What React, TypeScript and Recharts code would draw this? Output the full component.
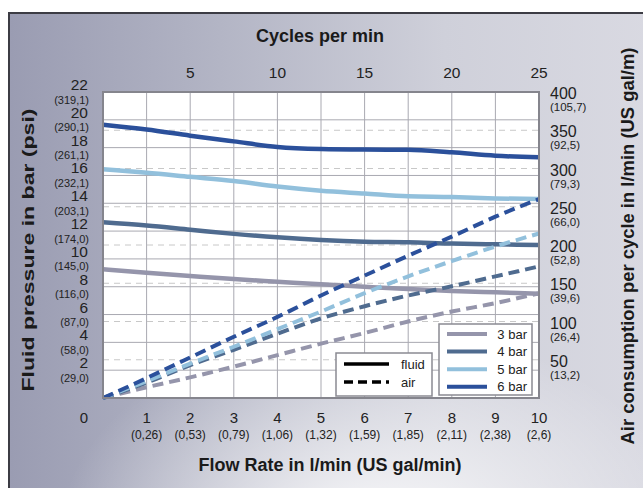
import React from 'react';
import { ComposedChart, Line, XAxis, YAxis, CartesianGrid } from 'recharts';

// flow rate in l/min, with US gal/min shown under each tick
const flowRate = [0, 1, 2, 3, 4, 5, 6, 7, 8, 9, 10];
const flowGal = ['', '(0,26)', '(0,53)', '(0,79)', '(1,06)', '(1,32)', '(1,59)', '(1,85)', '(2,11)', '(2,38)', '(2,6)'];

// fluid pressure (bar) per air pressure
const fluid3 = [9.25, 9.0, 8.77, 8.55, 8.36, 8.17, 8.0, 7.84, 7.7, 7.6, 7.5];
const fluid4 = [12.63, 12.4, 12.1, 11.8, 11.55, 11.36, 11.24, 11.2, 11.1, 11.05, 11.0];
const fluid5 = [16.44, 16.2, 15.9, 15.6, 15.2, 14.9, 14.7, 14.5, 14.45, 14.35, 14.3];
const fluid6 = [19.65, 19.3, 18.86, 18.45, 18.05, 17.9, 17.86, 17.85, 17.66, 17.42, 17.3];

// air consumption (l/min per cycle)
const air3 = [0, 14, 27, 41, 56, 71, 85, 100, 113, 124, 137];
const air4 = [0, 20, 43, 63, 84, 104, 120, 134, 146, 159, 172];
const air5 = [0, 22, 45, 67, 90, 113, 137, 159, 179, 198, 215];
const air6 = [0, 26, 53, 80, 106, 134, 160, 186, 211, 237, 260];

const barTicks = [0, 2, 4, 6, 8, 10, 12, 14, 16, 18, 20, 22];
const psiLabels: Record<number, string> = {
  2: '(29,0)', 4: '(58,0)', 6: '(87,0)', 8: '(116,0)', 10: '(145,0)', 12: '(174,0)',
  14: '(203,1)', 16: '(232,1)', 18: '(261,1)', 20: '(290,1)', 22: '(319,1)',
};
const airTicks = [0, 50, 100, 150, 200, 250, 300, 350, 400];
const galLabels: Record<number, string> = {
  50: '(13,2)', 100: '(26,4)', 150: '(39,6)', 200: '(52,8)',
  250: '(66,0)', 300: '(79,3)', 350: '(92,5)', 400: '(105,7)',
};
// cycles per min, placed at the flow rate they correspond to
const cycleAtFlow = [2, 4, 6, 8, 10];
const cycleLabels = ['5', '10', '15', '20', '25'];

const pressures = ['3 bar', '4 bar', '5 bar', '6 bar'];
const colors = ['#9595ab', '#4f6b8f', '#92c0dc', '#2b509b'];

const data = flowRate.map((q, i) => ({
  q,
  f3: fluid3[i], f4: fluid4[i], f5: fluid5[i], f6: fluid6[i],
  a3: air3[i], a4: air4[i], a5: air5[i], a6: air6[i],
}));

const FONT = '"Liberation Sans", Arial, sans-serif';

const LeftTick = ({ y, payload }: any) => {
  if (payload.value === 0) return null;
  return (
    <g fontFamily={FONT} fill="#222" textAnchor="end">
      <text x={88} y={y - 2} fontSize={15.5}>{payload.value}</text>
      <text x={89} y={y + 11.5} fontSize={11}>{psiLabels[payload.value]}</text>
    </g>
  );
};

const RightTick = ({ y, payload }: any) => {
  if (payload.value === 0) return null;
  return (
    <g fontFamily={FONT} fill="#222" textAnchor="start">
      <text x={550} y={y + 7} fontSize={16}>{payload.value}</text>
      <text x={550} y={y + 19} fontSize={11.5}>{galLabels[payload.value]}</text>
    </g>
  );
};

const BottomTick = ({ x, payload }: any) => {
  const i = flowRate.indexOf(payload.value);
  const cx = payload.value === 0 ? x - 19 : x;
  return (
    <g fontFamily={FONT} fill="#222" textAnchor="middle">
      <text x={cx} y={423} fontSize={15}>{payload.value}</text>
      <text x={x} y={439} fontSize={12}>{flowGal[i]}</text>
    </g>
  );
};

const TopTick = ({ x, payload }: any) => (
  <text x={x} y={78} fontFamily={FONT} fontSize={15.5} fill="#222" textAnchor="middle">
    {cycleLabels[cycleAtFlow.indexOf(payload.value)]}
  </text>
);

export default function App() {
  return (
    <div style={{ position: 'absolute', left: 0, top: 0, width: 643, height: 488, overflow: 'hidden', background: '#fff' }}>
      <div
        style={{
          position: 'absolute', left: 8, top: 12, width: 700, height: 520,
          borderTop: '2px solid #3c3c44', borderLeft: '2px solid #3c3c44',
          background:
            'radial-gradient(ellipse 45% 40% at 52% 100%, rgba(255,255,255,0.9) 0%, rgba(255,255,255,0) 100%), linear-gradient(to right, #9a9cb2 0%, #b3b5c5 30%, #cfd0da 62%, #dcdce4 100%)',
        }}
      />
      <div style={{ position: 'absolute', left: 0, top: 0 }}>
        <ComposedChart width={643} height={488} data={data} margin={{ top: 62, right: 44, bottom: 50, left: 43 }}>
          <CartesianGrid xAxisId="bottom" yAxisId="left" stroke="#a9a9b1" fill="#ffffff" />
          <CartesianGrid xAxisId="bottom" yAxisId="right" vertical={false} stroke="#c8c8c8" strokeDasharray="6 5" />
          <XAxis xAxisId="bottom" dataKey="q" type="number" domain={[0, 10]} ticks={flowRate}
            height={40} axisLine={false} tickLine={false} tick={<BottomTick />} />
          <XAxis xAxisId="top" orientation="top" dataKey="q" type="number" domain={[0, 10]} ticks={cycleAtFlow}
            height={30} axisLine={false} tickLine={false} tick={<TopTick />} />
          <YAxis yAxisId="left" type="number" domain={[0, 22]} ticks={barTicks} width={60}
            axisLine={false} tickLine={false} tick={<LeftTick />} />
          <YAxis yAxisId="right" orientation="right" type="number" domain={[0, 400]} ticks={airTicks} width={60}
            axisLine={false} tickLine={false} tick={<RightTick />} />
          {['f3', 'f4', 'f5', 'f6'].map((k, i) => (
            <Line key={k} xAxisId="bottom" yAxisId="left" type="monotone" dataKey={k} stroke={colors[i]}
              strokeWidth={4.5} dot={false} isAnimationActive={false} />
          ))}
          {['a3', 'a4', 'a5', 'a6'].map((k, i) => (
            <Line key={k} xAxisId="bottom" yAxisId="right" type="monotone" dataKey={k} stroke={colors[i]}
              strokeWidth={4} strokeDasharray="11 6" dot={false} isAnimationActive={false} />
          ))}
        </ComposedChart>
      </div>
      <svg width={643} height={488} style={{ position: 'absolute', left: 0, top: 0, pointerEvents: 'none' }} fontFamily={FONT}>
        <rect x={103} y={92} width={436} height={306} fill="none" stroke="#85858d" strokeWidth={2} />

        <rect x={336} y={353} width={96} height={43} fill="#fff" stroke="#8a8a92" strokeWidth={1.5} />
        <line x1={344} x2={389} y1={364} y2={364} stroke="#000" strokeWidth={3.5} />
        <line x1={344} x2={389} y1={382} y2={382} stroke="#000" strokeWidth={3.5} strokeDasharray="9 5" />
        <text x={401} y={369} fontSize={13} fill="#222">fluid</text>
        <text x={401} y={387} fontSize={13} fill="#222">air</text>

        <rect x={439} y={324} width={93} height={71} fill="#fff" stroke="#8a8a92" strokeWidth={1.5} />
        {pressures.map((p, i) => (
          <g key={p}>
            <line x1={447} x2={487} y1={334 + i * 17.6} y2={334 + i * 17.6} stroke={colors[i]} strokeWidth={4} />
            <text x={527} y={338.5 + i * 17.6} fontSize={13} fill="#222" textAnchor="end">{p}</text>
          </g>
        ))}

        <text x={320} y={42} fontSize={18} fontWeight="bold" fill="#1a1a1a" textAnchor="middle">Cycles per min</text>
        <text x={330} y={471} fontSize={18} fontWeight="bold" fill="#1a1a1a" textAnchor="middle">Flow Rate in l/min (US gal/min)</text>
        <text transform="translate(34, 250) rotate(-90)" fontSize={17} fontWeight="bold" fill="#1a1a1a"
          textAnchor="middle" textLength={283} lengthAdjust="spacingAndGlyphs">Fluid pressure in bar (psi)</text>
        <text transform="translate(634, 246) rotate(-90)" fontSize={17.5} fontWeight="bold" fill="#1a1a1a"
          textAnchor="middle" textLength={397} lengthAdjust="spacingAndGlyphs">Air consumption per cycle in l/min (US gal/m)</text>
      </svg>
    </div>
  );
}
